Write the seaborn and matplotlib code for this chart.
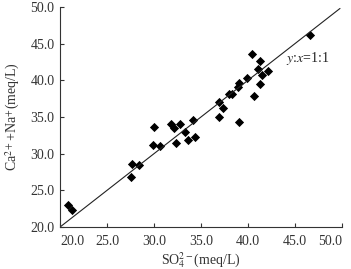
import numpy as np
import pandas as pd
import matplotlib
matplotlib.use("Agg")
import matplotlib.pyplot as plt
import seaborn as sns

# 数据：SO4^2- 与 Ca2+ + Na+ (meq/L)
so4 = [20.9, 21.3, 27.6, 27.7, 28.4, 29.9, 30.0, 30.6, 31.8, 32.1, 32.3,
       32.8, 33.3, 33.6, 34.2, 34.4, 36.9, 36.9, 37.4, 38.0, 38.3, 38.9,
       39.0, 39.1, 39.9, 40.4, 40.6, 41.1, 41.3, 41.3, 41.5, 42.1, 46.6]
ca_na = [23.0, 22.3, 26.8, 28.6, 28.4, 31.2, 33.7, 31.1, 34.0, 33.5, 31.5,
         34.1, 32.9, 31.8, 34.6, 32.3, 37.0, 35.0, 36.2, 38.1, 38.1, 39.1,
         39.7, 34.3, 40.3, 43.65, 37.8, 41.5, 42.7, 39.5, 40.7, 41.3, 46.2]
ticks = [20.0, 25.0, 30.0, 35.0, 40.0, 45.0, 50.0]
line_1to1 = [20.0, 49.8]

df = pd.DataFrame({"so4": so4, "ca_na": ca_na})

sns.set_style("ticks")
plt.rcParams['font.family'] = ['Liberation Serif', 'DejaVu Serif']
plt.rcParams['mathtext.fontset'] = 'stix'

fig = plt.figure(figsize=(3.51, 2.69), dpi=100)
ax = fig.add_axes([0.171, 0.156, 0.803, 0.818])

sns.scatterplot(data=df, x="so4", y="ca_na", marker="D", s=22,
                color="black", edgecolor="black", linewidth=0, ax=ax)
sns.lineplot(x=line_1to1, y=line_1to1, color="#222222", linewidth=0.8, ax=ax)

ax.text(44.1, 43.0, r"$y$:$x$=1:1", fontsize=10, ha="left", va="center", color="#222222")

ax.set_xlim(20, 50)
ax.set_ylim(20, 50)
ax.set_xticks(ticks)
ax.set_yticks(ticks)
ax.set_xticklabels([f"{t:.1f}" for t in ticks])
ax.set_yticklabels([f"{t:.1f}" for t in ticks])
ax.tick_params(direction="in", length=3, width=0.8, labelsize=10, colors="#333333")
ax.tick_params(axis="x", pad=6)
ax.tick_params(axis="y", pad=4)
# 首尾刻度标签向内对齐，避免与坐标轴/边缘冲突
xl = ax.get_xticklabels()
xl[0].set_ha("left")
xl[-1].set_ha("right")
sns.despine(ax=ax)
for sp in ["left", "bottom"]:
    ax.spines[sp].set_color("#333333")
    ax.spines[sp].set_linewidth(0.8)

ax.set_xlabel(r"SO$_4^{2-}$(meq/L)", fontsize=10, color="#333333", labelpad=2)
ax.set_ylabel(r"Ca$^{2+}$+Na$^{+}$(meq/L)", fontsize=10, color="#333333", labelpad=6)

fig.savefig("out.png", dpi=100)
